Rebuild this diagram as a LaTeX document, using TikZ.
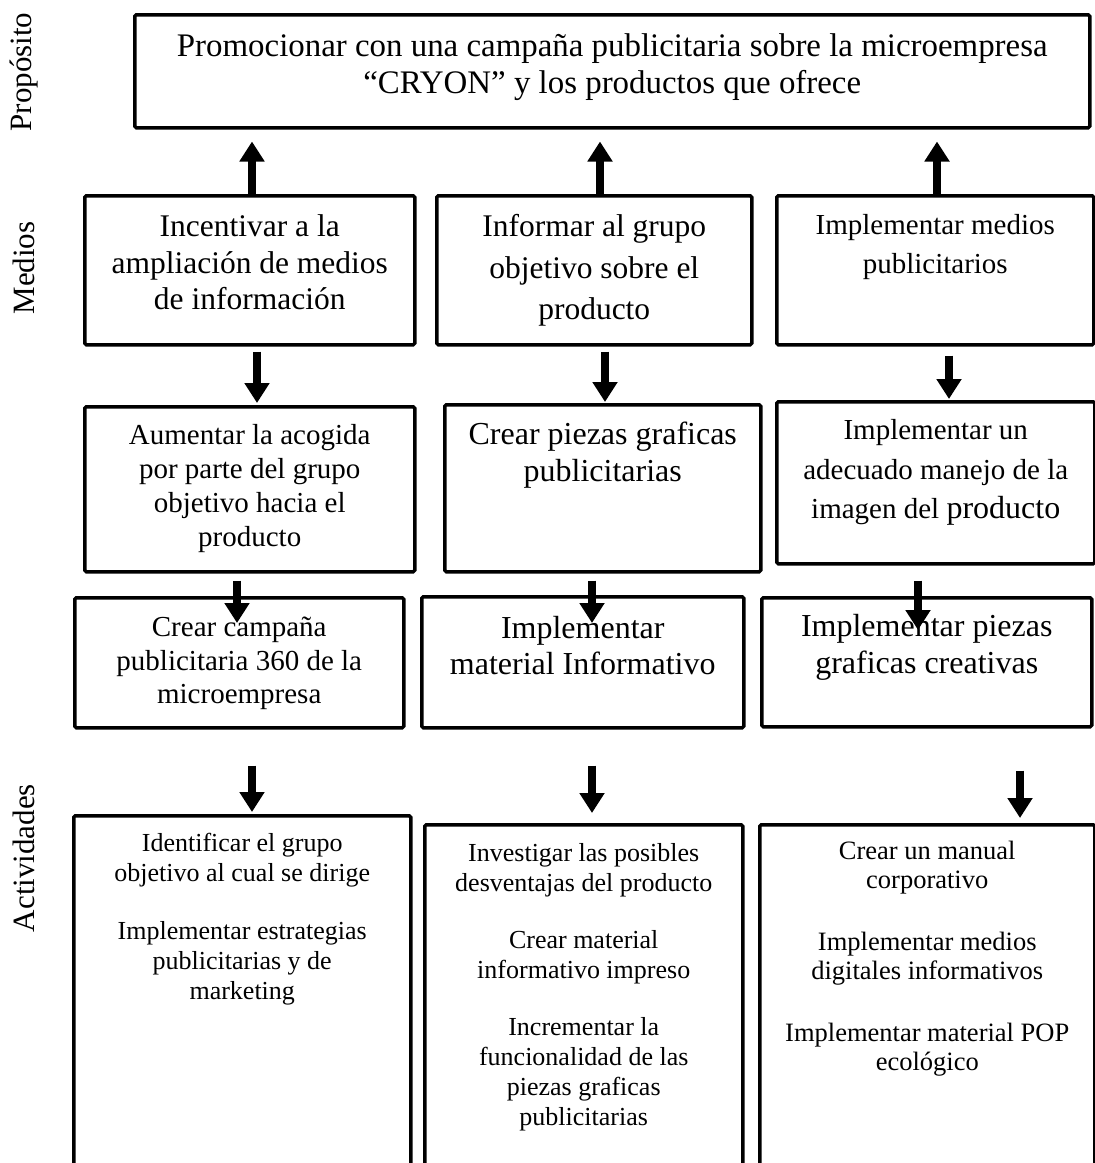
\documentclass[tikz,border=0pt]{standalone}
\usepackage{fontspec}
\setmainfont{Liberation Serif}
\usetikzlibrary{arrows.meta}

\begin{document}
\begin{tikzpicture}[x=1pt, y=-1pt,
    caja/.style={rectangle, draw, line width=3.5pt, rounded corners=1.5pt, inner sep=0pt, anchor=north west},
    flecha/.style={line width=8pt, -{Triangle[width=24pt,length=20pt]}},
    etiqueta/.style={rotate=90, inner sep=0pt, font=\fontsize{31}{36}\selectfont}]
            \useasboundingbox (0,0) rectangle (1095,1163);
            \clip (0,0) rectangle (1095,1163);

            % Row labels
            \node (proposito) [etiqueta] at (24,72) {Propósito};
            \node (medios) [etiqueta] at (24,268) {Medios};
            \node (actividades) [etiqueta] at (24,858) {Actividades};

            % Propósito
            \node (prop) [caja, font=\fontsize{32.9}{37}\selectfont] at (133,13) {\parbox[c][113pt][t]{955pt}{\centering\rule{0pt}{42pt}Promocionar con una campaña publicitaria sobre la microempresa\\ “CRYON” y los productos que ofrece}};

            % Medios
            \node (m1) [caja, font=\fontsize{31.5}{36.5}\selectfont] at (83,194) {\parbox[c][149pt][t]{330pt}{\centering\rule{0pt}{41pt}Incentivar a la\\ ampliación de medios\\ de información}};
            \node (m2) [caja, font=\fontsize{31.5}{41.5}\selectfont] at (435,194) {\parbox[c][149pt][t]{315pt}{\centering\rule{0pt}{41pt}Informar al grupo\\ objetivo sobre el\\ producto}};
            \node (m3) [caja, font=\fontsize{29}{39}\selectfont] at (775,194) {\parbox[c][149pt][t]{317pt}{\centering\rule{0pt}{39pt}Implementar medios\\ publicitarios}};

            % Medios, second level
            \node (r3a) [caja, font=\fontsize{29}{34}\selectfont] at (83,405) {\parbox[c][165pt][t]{330pt}{\centering\rule{0pt}{38pt}Aumentar la acogida\\ por parte del grupo\\ objetivo hacia el\\ producto}};
            \node (r3b) [caja, font=\fontsize{32}{37}\selectfont] at (443,403) {\parbox[c][167pt][t]{316pt}{\centering\rule{0pt}{40pt}Crear piezas graficas\\ publicitarias}};
            \node (r3c) [caja, font=\fontsize{29}{39.5}\selectfont] at (775,400) {\parbox[c][162pt][t]{318pt}{\centering\rule{0pt}{38pt}Implementar un\\ adecuado manejo de la\\ imagen del {\fontsize{32}{39.5}\selectfont producto}}};

            % Componentes
            \node (r4a) [caja, font=\fontsize{29}{33.5}\selectfont] at (73,596) {\parbox[c][130pt][t]{329pt}{\centering\rule{0pt}{39pt}Crear campaña\\ publicitaria 360 de la\\ microempresa}};
            \node (r4b) [caja, font=\fontsize{32}{36}\selectfont] at (420,595) {\parbox[c][131pt][t]{322pt}{\centering\rule{0pt}{42pt}Implementar\\ material Informativo}};
            \node (r4c) [caja, font=\fontsize{32}{37}\selectfont] at (760,596) {\parbox[c][129pt][t]{330pt}{\centering\rule{0pt}{39pt}Implementar piezas\\ graficas creativas}};

            % Actividades
            \node (r5a) [caja, font=\fontsize{26}{30}\selectfont] at (72,814) {\parbox[c][370pt][t]{337pt}{\centering\rule{0pt}{36pt}Identificar el grupo\\ objetivo al cual se dirige\\[28pt] Implementar estrategias\\ publicitarias y de\\ marketing}};
            \node (r5b) [caja, font=\fontsize{26}{30}\selectfont] at (423,823) {\parbox[c][360pt][t]{318pt}{\centering\rule{0pt}{37pt}Investigar las posibles\\ desventajas del producto\\[27pt] Crear material\\ informativo impreso\\[27pt] Incrementar la\\ funcionalidad de las\\ piezas graficas\\ publicitarias}};
            \node (r5c) [caja, font=\fontsize{26.5}{29}\selectfont] at (758,823) {\parbox[c][360pt][t]{335pt}{\centering\rule{0pt}{35pt}Crear un manual\\ corporativo\\[33pt] Implementar medios\\ digitales informativos\\[33pt] Implementar material POP\\ ecológico}};

            % Arrow columns
            \coordinate (p1) at (252,0);
            \coordinate (p2) at (600,0);
            \coordinate (p3) at (937,0);
            \coordinate (q1) at (257,0);
            \coordinate (q2) at (605,0);
            \coordinate (q3) at (949,0);
            \coordinate (s1) at (237,0);
            \coordinate (s2) at (592,0);
            \coordinate (s3) at (918,0);
            \coordinate (t1) at (252,0);
            \coordinate (t2) at (592,0);
            \coordinate (t3) at (1020,0);

            % Relationships
            \draw[flecha, shorten >=12pt] (m1.north -| p1) -- (prop.south -| p1);
            \draw[flecha, shorten >=12pt] (m2.north -| p2) -- (prop.south -| p2);
            \draw[flecha, shorten >=12pt] (m3.north -| p3) -- (prop.south -| p3);
            \draw[flecha, shorten <=5pt, shorten >=2pt] (m1.south -| q1) -- (r3a.north -| q1);
            \draw[flecha, shorten <=5pt, shorten >=1pt] (m2.south -| q2) -- (r3b.north -| q2);
            \draw[flecha, shorten <=9pt, shorten >=1pt] (m3.south -| q3) -- (r3c.north -| q3);
            \draw[flecha, shorten <=7pt, shorten >=-27pt] (r3a.south -| s1) -- (r4a.north -| s1);
            \draw[flecha, shorten <=7pt, shorten >=-28pt] (r3b.south -| s2) -- (r4b.north -| s2);
            \draw[flecha, shorten <=15pt, shorten >=-34pt] (r3c.south -| s3) -- (r4c.north -| s3);
            \draw[flecha, shorten <=36pt, shorten >=2pt] (r4a.south -| t1) -- (r5a.north -| t1);
            \draw[flecha, shorten <=36pt, shorten >=10pt] (r4b.south -| t2) -- (r5b.north -| t2);
            \draw[flecha, shorten <=42pt, shorten >=5pt] (r4c.south -| t3) -- (r5c.north -| t3);
\end{tikzpicture}
\end{document}
